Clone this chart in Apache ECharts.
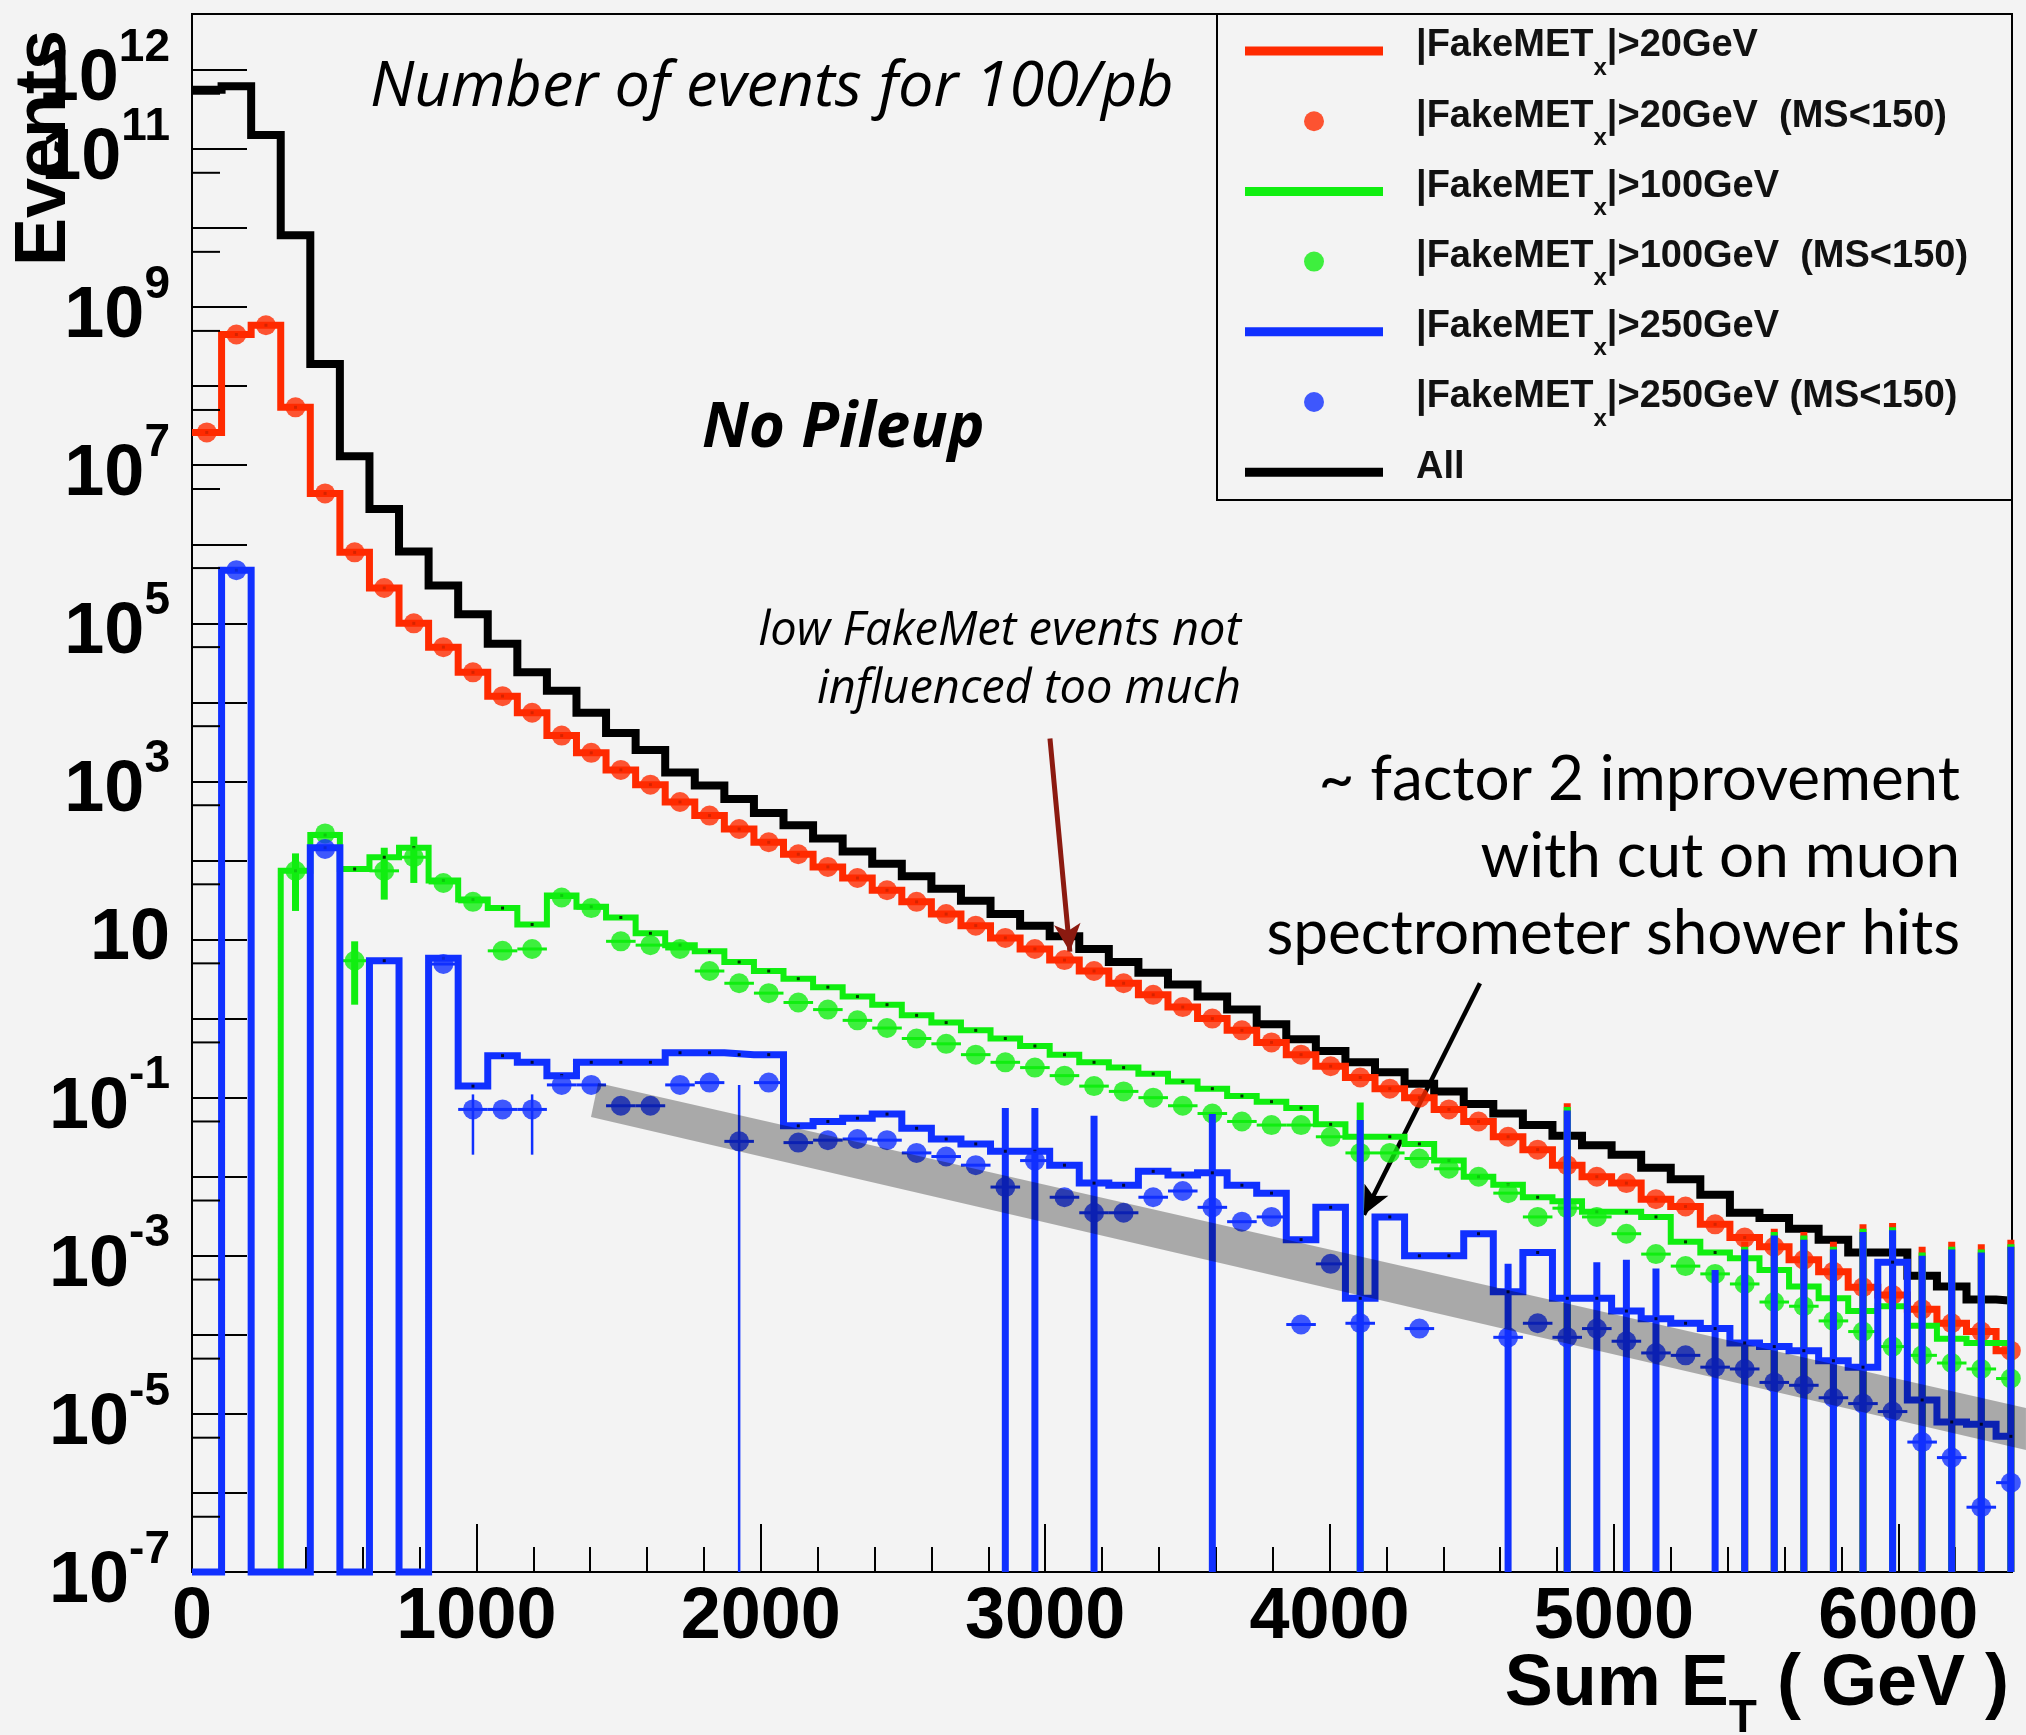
<!DOCTYPE html>
<html>
<head>
<meta charset="utf-8">
<script src="https://cdn.jsdelivr.net/npm/echarts@6/dist/echarts.min.js"></script>
<style>
  html, body { margin: 0; padding: 0; background: #f3f3f3; }
  #chart { width: 2026px; height: 1735px; }
</style>
</head>
<body>
<div id="chart"></div>
<script>
// binning: bin k covers [k*104, (k+1)*104) GeV, axis cut at 6400
const binWidth = 104;
const xMax = 6400;
const yFloor = 1e-7;
const yTop = 5.1e12;

// number of events per bin; 0 = empty bin drawn on the floor, null = not drawn
const allEvents = [5.6e11, 6.2e11, 1.5e11, 8.1e9, 1.9e8, 1.3e7, 2.8e6, 8.1e5, 3.0e5, 1.3e5,
  5.5e4, 2.4e4, 1.4e4, 7.4e3, 4.1e3, 2.5e3, 1.3e3, 890, 600, 400,
  280, 190, 130, 91, 63, 44, 31, 21, 15, 11,
  7.6, 5.2, 3.8, 2.7, 1.9, 1.3, 0.85, 0.55, 0.39, 0.28,
  0.21, 0.15, 0.12, 0.083, 0.063, 0.045, 0.033, 0.025, 0.019, 0.013,
  0.0093, 0.0059, 0.0035, 0.0030, 0.0022, 0.0016, 0.0011, 0.0011, 5.6e-4, 4.1e-4,
  2.8e-4, 2.7e-4];

const met20Hist = [2.6e7, 4.5e8, 5.9e8, 5.4e7, 4.4e6, 7.9e5, 2.8e5, 1.0e5, 5.0e4, 2.4e4,
  1.2e4, 7.4e3, 3.8e3, 2.3e3, 1.4e3, 910, 550, 370, 250, 170,
  120, 83, 60, 42, 30, 21, 15, 10.5, 7.6, 5.5,
  4.0, 2.8, 2.0, 1.4, 1.0, 0.71, 0.50, 0.35, 0.25, 0.18,
  0.13, 0.10, 0.071, 0.050, 0.032, 0.022, 0.014, 0.010, 0.0083, 0.0052,
  0.0042, 0.0025, 0.0017, 0.0013, 8.9e-4, 6.3e-4, 4.0e-4, 3.2e-4, 2.1e-4, 1.4e-4,
  1.1e-4, 6.3e-5];

const met20Ms = [2.6e7, 4.5e8, 5.9e8, 5.4e7, 4.4e6, 7.9e5, 2.8e5, 1.0e5, 5.0e4, 2.4e4,
  1.2e4, 7.4e3, 3.8e3, 2.3e3, 1.4e3, 910, 550, 370, 250, 170,
  120, 83, 60, 42, 30, 21, 15, 10.5, 7.6, 5.5,
  4.0, 2.8, 2.0, 1.4, 1.0, 0.71, 0.50, 0.35, 0.25, 0.18,
  0.13, 0.10, 0.071, 0.050, 0.032, 0.022, 0.014, 0.010, 0.0083, 0.0052,
  0.0042, 0.0025, 0.0017, 0.0013, 8.9e-4, 6.3e-4, 4.0e-4, 3.2e-4, 2.1e-4, 1.4e-4,
  1.1e-4, 6.3e-5];

const met100Hist = [null, null, null, 74, 210, 78, 110, 145, 56, 32,
  25, 15.5, 36, 26, 19, 12, 8.5, 7.1, 5.2, 4.0,
  3.2, 2.5, 1.9, 1.5, 1.1, 0.89, 0.71, 0.56, 0.45, 0.35,
  0.28, 0.24, 0.20, 0.16, 0.13, 0.105, 0.089, 0.074, 0.046, 0.032,
  0.032, 0.026, 0.016, 0.010, 0.0079, 0.0055, 0.0049, 0.0036, 0.0036, 0.0031,
  0.0015, 0.0011, 9.3e-4, 6.6e-4, 4.1e-4, 2.9e-4, 2.0e-4, 2.3e-4, 1.3e-4, 8.9e-5,
  7.9e-5, 7.9e-5];

const met100Ms = [null, null, null, 74, 220, 5.4, 74, 110, 52, 30,
  7.2, 7.6, 34, 25, 9.5, 8.5, 7.6, 4.0, 2.8, 2.1,
  1.6, 1.3, 0.95, 0.76, 0.56, 0.48, 0.35, 0.28, 0.24, 0.19,
  0.14, 0.12, 0.10, 0.079, 0.063, 0.050, 0.045, 0.045, 0.032, 0.020,
  0.020, 0.017, 0.0126, 0.010, 0.0062, 0.0031, 0.0040, 0.0031, 0.0019, 0.00105,
  7.4e-4, 5.9e-4, 4.4e-4, 2.6e-4, 2.3e-4, 1.5e-4, 1.1e-4, 7.1e-5, 5.5e-5, 4.4e-5,
  3.7e-5, 2.8e-5];

const met250Hist = [0, 4.7e5, 0, 0, 145, 0, 5.4, 0, 5.8, 0.14,
  0.34, 0.28, 0.19, 0.28, 0.28, 0.28, 0.37, 0.37, 0.35, 0.35,
  0.044, 0.050, 0.055, 0.062, 0.041, 0.030, 0.026, 0.021, 0.021, 0.014,
  0.0083, 0.0078, 0.0117, 0.0105, 0.0112, 0.0078, 0.0062, 0.0016, 0.0041, 2.9e-4,
  0.0031, 0.0010, 0.0010, 0.0019, 3.5e-4, 0.0011, 2.9e-4, 2.9e-4, 2.0e-4, 1.6e-4,
  1.4e-4, 1.2e-4, 7.9e-5, 7.1e-5, 6.3e-5, 4.7e-5, 3.9e-5, 8.3e-4, 1.5e-5, 7.9e-6,
  7.4e-6, 5.2e-6];

const met250Ms = [null, 4.7e5, null, null, 140, null, null, null, 4.9, 0.071,
  0.071, 0.071, 0.145, 0.145, 0.079, 0.079, 0.145, 0.155, 0.028, 0.155,
  0.027, 0.029, 0.030, 0.029, 0.020, 0.018, 0.014, 0.0074, 0.016, 0.0055,
  0.0035, 0.0035, 0.0055, 0.0066, 0.0041, 0.0027, 0.0031, 1.35e-4, 7.9e-4, 1.4e-4,
  null, 1.2e-4, null, null, 9.3e-5, 1.4e-4, 9.3e-5, 1.2e-4, 8.3e-5, 5.9e-5,
  5.5e-5, 3.9e-5, 3.7e-5, 2.5e-5, 2.3e-5, 1.6e-5, 1.35e-5, 1.07e-5, 4.4e-6, 2.8e-6,
  6.6e-7, 1.35e-6];

// vertical error bars [bin, low, high]; low 0 = bar reaches the axis floor
const met20Err = [[46, 0, 0.085], [52, 0, 0.0015], [53, 0, 0.0022], [54, 0, 0.0020], [55, 0, 0.0015],
  [56, 0, 0.0025], [57, 0, 0.0026], [58, 0, 0.0013], [59, 0, 0.0015], [60, 0, 0.0014], [61, 0, 0.0016]];
const met100Err = [[3, 23, 123], [5, 1.5, 9.5], [6, 32, 145], [7, 52, 200], [39, 0, 0.087],
  [46, 0, 0.076], [52, 0, 0.0013], [53, 0, 0.0020], [54, 0, 0.0018], [55, 0, 0.0013],
  [56, 0, 0.0022], [57, 0, 0.0023], [58, 0, 0.0011], [59, 0, 0.0013], [60, 0, 0.0012], [61, 0, 0.0014]];
const met250Err = [[9, 0.019, 0.11], [11, 0.019, 0.11], [18, 0, 0.145], [27, 0, 0.074], [28, 0, 0.074],
  [30, 0, 0.059], [34, 0, 0.062], [39, 0, 0.052], [44, 0, 7.9e-4], [46, 0, 0.069],
  [47, 0, 8.3e-4], [48, 0, 8.9e-4], [49, 0, 6.9e-4], [51, 0, 6.6e-4], [52, 0, 0.0012],
  [53, 0, 0.0018], [54, 0, 0.0016], [55, 0, 0.0012], [56, 0, 0.0020], [57, 0, 0.0021],
  [58, 0, 0.0010], [59, 0, 0.0012], [60, 0, 0.0011], [61, 0, 0.0013]];
const thinErrBins = [9, 11, 18];

// axis decoration
const xTickLabels = [0, 1000, 2000, 3000, 4000, 5000, 6000];
const yLabelExps = [-7, -5, -3, -1, 1, 3, 5, 7, 9, 11, 12];
const yHalfTicks = [5e-7, 5e-6, 5e-5, 5e-4, 5e-3, 5e-2, 0.5, 5, 50, 500, 5e3, 5e4, 5e5, 5e6, 5e7, 5e8, 5e9, 5e10, 5e11];

// annotation geometry in data units [GeV, events]
const bandCorners = [[1428, 0.153], [6449, 1.19e-5], [6449, 3.5e-6], [1403, 0.057]];
const redArrow = [[3017, 3.5e3], [3087, 7.0]];
const blackArrow = [[4529, 2.8], [4121, 3.3e-3]];

const names = {
  red: '|FakeMETx|>20GeV', redMs: '|FakeMETx|>20GeV  (MS<150)',
  green: '|FakeMETx|>100GeV', greenMs: '|FakeMETx|>100GeV  (MS<150)',
  blue: '|FakeMETx|>250GeV', blueMs: '|FakeMETx|>250GeV (MS<150)', all: 'All'
};
const RED = '#ff2a00', GREEN = '#10ee10', BLUE = '#1030ff';

function center(k) { return (k + 0.5) * binWidth; }

function histPoints(vals) {
  const pts = [];
  let started = false;
  vals.forEach((v, k) => {
    if (v == null) return;
    const y = v > 0 ? v : yFloor;
    if (!started && k > 0) pts.push([k * binWidth, yFloor]);
    started = true;
    pts.push([k * binWidth, y], [Math.min((k + 1) * binWidth, xMax), y]);
  });
  return pts;
}

function histSeries(name, vals, color, width, z) {
  return {
    name, type: 'line', data: histPoints(vals), symbol: 'none', clip: false, z,
    lineStyle: { color, width, join: 'miter' }, itemStyle: { color }
  };
}

function dotSeries(vals, z) {
  const data = [];
  vals.forEach((v, k) => { if (v > 0) data.push([center(k), v]); });
  return { type: 'scatter', data, symbol: 'rect', symbolSize: 3, itemStyle: { color: '#000' }, z, silent: true };
}

function markerSeries(name, vals, color, z) {
  const data = [];
  vals.forEach((v, k) => { if (v != null) data.push([center(k), v]); });
  return { name, type: 'scatter', data, symbol: 'circle', symbolSize: 20, itemStyle: { color }, z };
}

function errorSeries(vals, errs, color, z) {
  const byBin = {};
  errs.forEach(e => { byBin[e[0]] = e; });
  const data = [];
  vals.forEach((v, k) => {
    if (v == null) return;
    const e = byBin[k];
    data.push([k, v, e ? e[1] : -1, e ? e[2] : -1]);
  });
  return {
    type: 'custom', data, z, silent: true, encode: { x: 0, y: 1 },
    renderItem(params, api) {
      const k = api.value(0), v = api.value(1), lo = api.value(2), hi = api.value(3);
      const a = api.coord([k * binWidth, v]);
      const b = api.coord([Math.min((k + 1) * binWidth, xMax), v]);
      const children = [{ type: 'line', shape: { x1: a[0], y1: a[1], x2: b[0], y2: b[1] },
        style: { stroke: color, lineWidth: 3 } }];
      if (hi > 0) {
        const top = api.coord([center(k), hi]);
        const bot = api.coord([center(k), lo > 0 ? lo : yFloor]);
        children.push({ type: 'line', shape: { x1: top[0], y1: top[1], x2: bot[0], y2: bot[1] },
          style: { stroke: color, lineWidth: thinErrBins.includes(k) && color === BLUE ? 2.5 : 7 } });
      }
      return { type: 'group', children };
    }
  };
}

const chart = echarts.init(document.getElementById('chart'));
const tickFont = { fontFamily: 'Liberation Sans', fontWeight: 'bold', color: '#000' };
const legFont = { fontFamily: 'Liberation Sans', fontWeight: 'bold', color: '#111' };

const option = {
  animation: false,
  backgroundColor: '#f3f3f3',
  grid: { left: 192, top: 14, right: 14, bottom: 163, show: true, borderColor: '#000', borderWidth: 2, backgroundColor: 'transparent' },
  xAxis: [{
    type: 'value', min: 0, max: xMax, interval: 1000,
    axisLine: { lineStyle: { color: '#000', width: 2 } },
    axisTick: { inside: true, length: 48, lineStyle: { color: '#000', width: 2 } },
    splitLine: { show: false },
    axisLabel: {
      margin: 10, fontSize: 72, ...tickFont,
      formatter: v => xTickLabels.includes(v) ? String(v) : ''
    }
  }, {
    type: 'value', min: 0, max: xMax, interval: 200, position: 'bottom',
    axisLine: { show: false }, axisLabel: { show: false }, splitLine: { show: false },
    axisTick: { inside: true, length: 25, lineStyle: { color: '#000', width: 2 } }
  }],
  yAxis: {
    type: 'log', logBase: 10, min: yFloor, max: yTop, interval: 1,
    axisLine: { lineStyle: { color: '#000', width: 2 } },
    axisTick: { inside: true, length: 55, lineStyle: { color: '#000', width: 2 } },
    splitLine: { show: false },
    axisLabel: {
      margin: 22, color: '#000',
      formatter: v => {
        const l = Math.log10(v), e = Math.round(l);
        if (Math.abs(l - e) > 1e-6 || !yLabelExps.includes(e)) return '';
        return e === 1 ? '{p|10}' : '{m|10}{e|' + e + '}';
      },
      rich: {
        p: { ...tickFont, fontSize: 72, lineHeight: 72 },
        m: { ...tickFont, fontSize: 72, lineHeight: 72, padding: [20, 0, 0, 0] },
        e: { ...tickFont, fontSize: 46, lineHeight: 46, padding: [0, 0, 44, 0] }
      }
    }
  },
  legend: {
    orient: 'vertical', left: 1245, top: 22, padding: 0, itemGap: 12.2, z: 60,
    itemWidth: 138, itemHeight: 20, selectedMode: false,
    itemStyle: { borderWidth: 0 },
    data: [
      { name: names.red, icon: 'path://M0,0H138V9H0Z' },
      { name: names.redMs, icon: 'circle' },
      { name: names.green, icon: 'path://M0,0H138V9H0Z' },
      { name: names.greenMs, icon: 'circle' },
      { name: names.blue, icon: 'path://M0,0H138V9H0Z' },
      { name: names.blueMs, icon: 'circle' },
      { name: names.all, icon: 'path://M0,0H138V9H0Z' }
    ],
    formatter: name => {
      if (name === 'All') return '{n0|All}{s| }';
      const parts = name.split('FakeMETx');
      return '{n0|' + parts[0] + 'FakeMET}{s|x}{n|' + parts[1] + '}';
    },
    textStyle: {
      rich: {
        n0: { ...legFont, fontSize: 38, lineHeight: 46, padding: [0, 0, 10, 28] },
        n: { ...legFont, fontSize: 38, lineHeight: 46, padding: [0, 0, 10, 0] },
        s: { ...legFont, fontSize: 24, lineHeight: 24, padding: [34, 0, 0, 0] }
      }
    }
  },
  graphic: [
    { type: 'rect', z: 55, shape: { x: 1217, y: 14, width: 795, height: 486 },
      style: { fill: '#f3f3f3', stroke: '#000', lineWidth: 2 } },
    { type: 'text', z: 50, x: 370, y: 88,
      style: { text: 'Number of events for 100/pb', font: 'italic 63px "Open Sans"', fill: '#000', align: 'left', verticalAlign: 'middle' } },
    { type: 'text', z: 50, x: 702, y: 429,
      style: { text: 'No Pileup', font: 'italic bold 62px "Open Sans"', fill: '#000', align: 'left', verticalAlign: 'middle' } },
    { type: 'text', z: 50, x: 1241, y: 632,
      style: { text: 'low FakeMet events not', font: 'italic 47px "Open Sans"', fill: '#000', align: 'right', verticalAlign: 'middle' } },
    { type: 'text', z: 50, x: 1241, y: 690,
      style: { text: 'influenced too much', font: 'italic 47px "Open Sans"', fill: '#000', align: 'right', verticalAlign: 'middle' } },
    { type: 'text', z: 50, x: 1960, y: 780,
      style: { text: '~ factor 2 improvement', font: '62px Lato', fill: '#000', align: 'right', verticalAlign: 'middle' } },
    { type: 'text', z: 50, x: 1960, y: 857,
      style: { text: 'with cut on muon', font: '62px Lato', fill: '#000', align: 'right', verticalAlign: 'middle' } },
    { type: 'text', z: 50, x: 1960, y: 934,
      style: { text: 'spectrometer shower hits', font: '62px Lato', fill: '#000', align: 'right', verticalAlign: 'middle' } },
    { type: 'text', z: 50, x: 45, y: 148, rotation: Math.PI / 2,
      style: { text: 'Events', font: 'bold 72px "Liberation Sans"', fill: '#000', align: 'center', verticalAlign: 'middle' } },
    { type: 'text', z: 50, x: 2009, y: 1685,
      style: { text: '{t|Sum E}{u|T}{t| ( GeV )}', align: 'right', verticalAlign: 'middle',
        rich: {
          t: { fontFamily: 'Liberation Sans', fontWeight: 'bold', fontSize: 72, lineHeight: 72, fill: '#000' },
          u: { fontFamily: 'Liberation Sans', fontWeight: 'bold', fontSize: 46, lineHeight: 46, padding: [68, 0, 0, 0], fill: '#000' }
        } } }
  ],
  series: [
    histSeries(names.all, allEvents, '#000', 8, 2),
    histSeries(names.red, met20Hist, RED, 7, 3),
    dotSeries(met20Hist, 4),
    errorSeries(met20Ms, met20Err, RED, 4),
    markerSeries(names.redMs, met20Ms, RED, 5),
    histSeries(names.green, met100Hist, GREEN, 6, 6),
    dotSeries(met100Hist, 7),
    errorSeries(met100Ms, met100Err, GREEN, 7),
    markerSeries(names.greenMs, met100Ms, GREEN, 8),
    histSeries(names.blue, met250Hist, BLUE, 7, 9),
    dotSeries(met250Hist, 10),
    errorSeries(met250Ms, met250Err, BLUE, 10),
    markerSeries(names.blueMs, met250Ms, BLUE, 11),
    {
      type: 'custom', z: 12, silent: true, clip: false,
      data: [bandCorners[0]], encode: { x: 0, y: 1 },
      renderItem(params, api) {
        return { type: 'polygon', shape: { points: bandCorners.map(p => api.coord(p)) },
          style: { fill: 'rgba(0,0,0,0.3)' } };
      },
      markLine: {
        silent: true, symbol: ['none', 'arrow'], symbolSize: [20, 28], label: { show: false },
        data: [
          [{ coord: redArrow[0], lineStyle: { color: '#8b1a10', width: 5, type: 'solid' }, itemStyle: { color: '#8b1a10' } },
           { coord: redArrow[1] }],
          [{ coord: blackArrow[0], lineStyle: { color: '#000', width: 4.5, type: 'solid' }, itemStyle: { color: '#000' } },
           { coord: blackArrow[1] }]
        ]
      }
    },
    {
      type: 'custom', z: 13, silent: true,
      data: yHalfTicks.map(v => [0, v]), encode: { x: 0, y: 1 },
      renderItem(params, api) {
        const p = api.coord([0, api.value(1)]);
        return { type: 'line', shape: { x1: p[0], y1: p[1], x2: p[0] + 28, y2: p[1] },
          style: { stroke: '#000', lineWidth: 2 } };
      }
    }
  ]
};
chart.setOption(option);
</script>
</body>
</html>
